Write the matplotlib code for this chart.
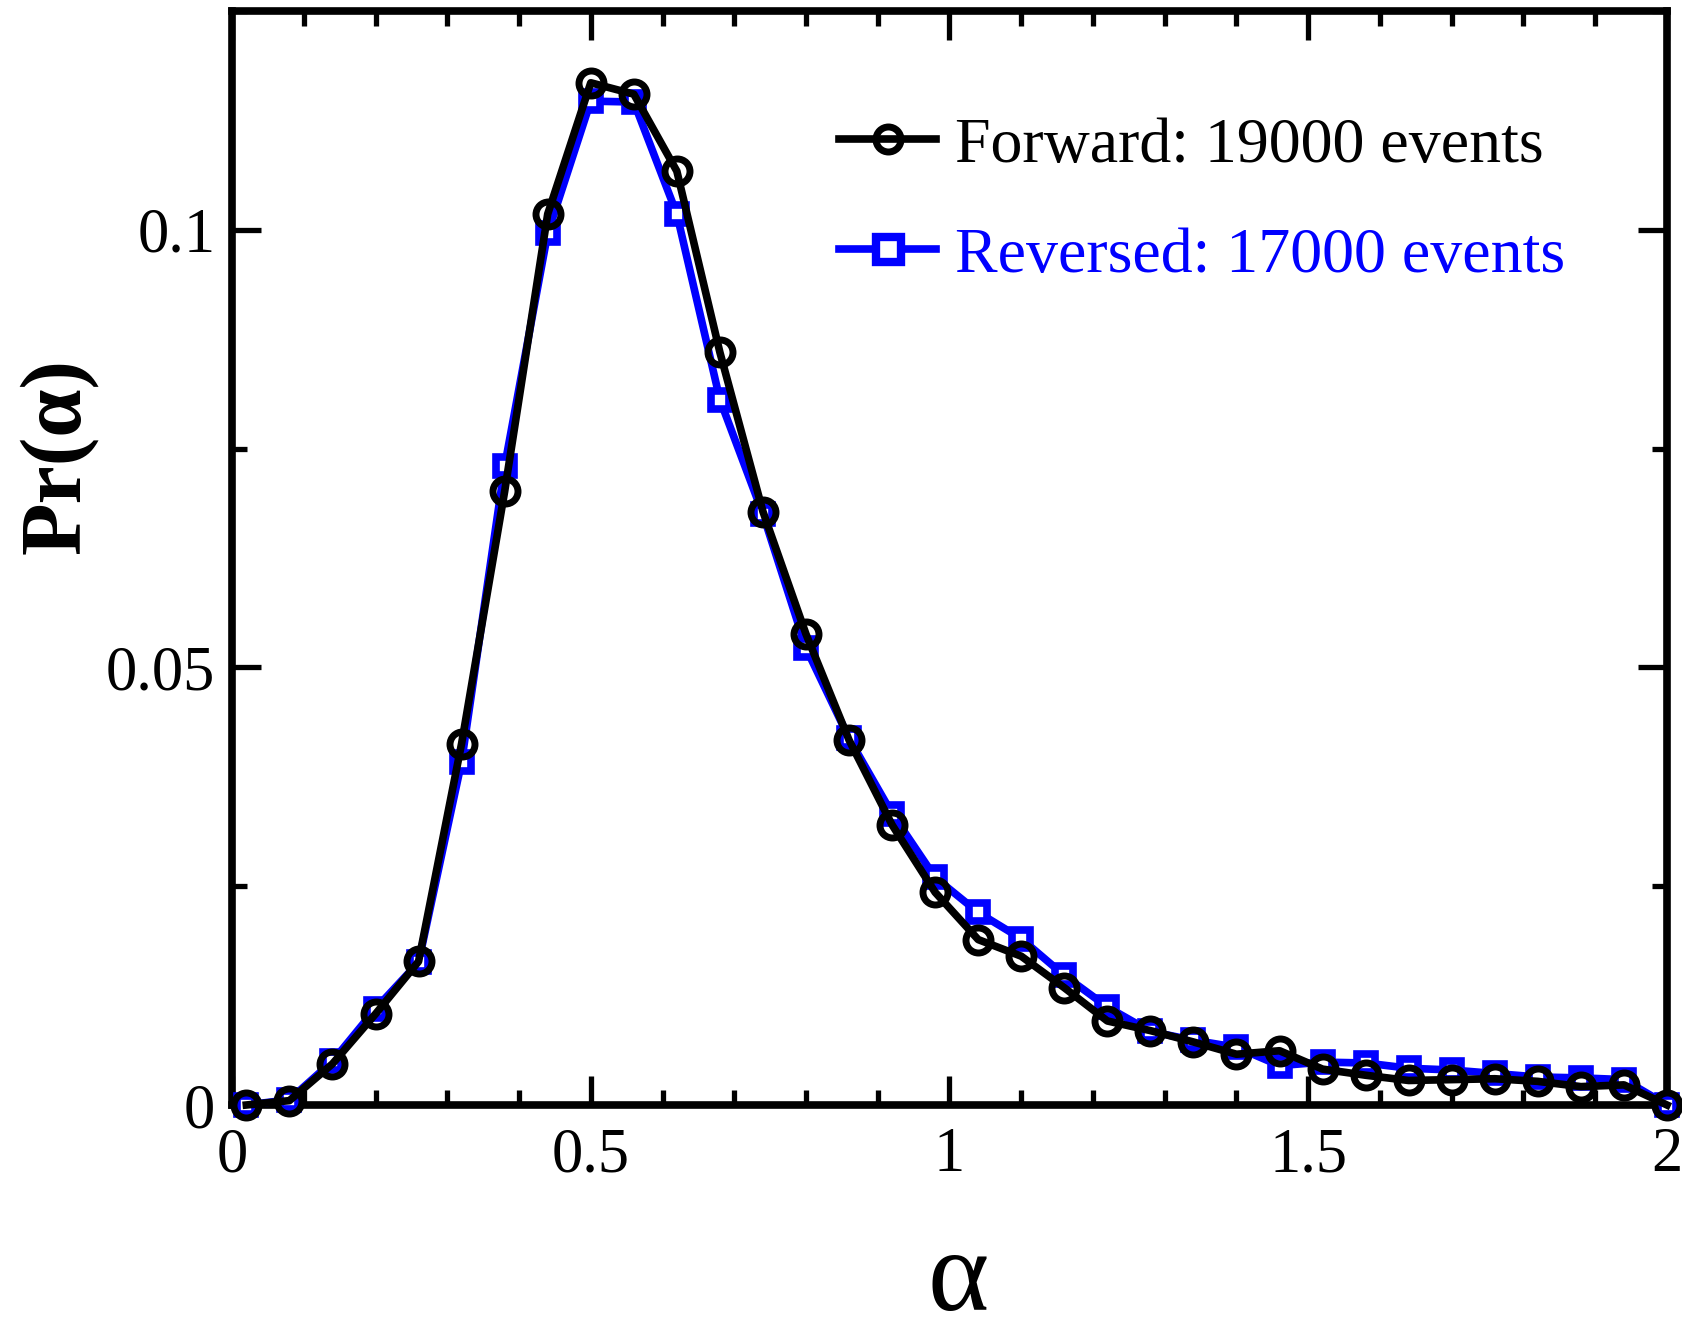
import matplotlib
matplotlib.use("Agg")
import matplotlib.pyplot as plt
from matplotlib.ticker import MultipleLocator

# alpha bins (centres)
alpha = [0.02, 0.08, 0.14, 0.20, 0.26, 0.32, 0.38, 0.44, 0.50, 0.56,
         0.62, 0.68, 0.74, 0.80, 0.86, 0.92, 0.98, 1.04, 1.10, 1.16,
         1.22, 1.28, 1.34, 1.40, 1.46, 1.52, 1.58, 1.64, 1.70, 1.76,
         1.82, 1.88, 1.94, 2.00]

# forward events
pr_forward = [0.0000, 0.0005, 0.0047, 0.0104, 0.0164, 0.0413, 0.0701, 0.1018, 0.1168, 0.1155,
              0.1067, 0.0860, 0.0678, 0.0538, 0.0417, 0.0320, 0.0243, 0.0189, 0.0170, 0.0134,
              0.0096, 0.0085, 0.0072, 0.0058, 0.0062, 0.0041, 0.0034, 0.0028, 0.0029, 0.0030,
              0.0027, 0.0021, 0.0023, 0.0000]

# reversed events
pr_reversed = [0.0000, 0.0006, 0.0050, 0.0110, 0.0163, 0.0392, 0.0730, 0.0996, 0.1147, 0.1146,
               0.1018, 0.0806, 0.0675, 0.0522, 0.0419, 0.0333, 0.0260, 0.0220, 0.0190, 0.0148,
               0.0112, 0.0084, 0.0074, 0.0066, 0.0045, 0.0049, 0.0048, 0.0042, 0.0040, 0.0036,
               0.0032, 0.0031, 0.0029, 0.0000]

label_forward = "Forward: 19000 events"
label_reversed = "Reversed: 17000 events"

plt.rcParams['font.family'] = ['Liberation Serif', 'DejaVu Serif']

fig = plt.figure(figsize=(16.82, 13.18), dpi=100)
ax = fig.add_axes([232 / 1682, 1 - 1105 / 1318, (1667 - 232) / 1682, (1105 - 11) / 1318])

ax.plot(alpha, pr_reversed, color=(0, 0, 1), linewidth=5.5, marker='s', markersize=13,
        markeredgewidth=5.5, markerfacecolor='white', markeredgecolor=(0, 0, 1),
        label=label_reversed, clip_on=False, zorder=3)
ax.plot(alpha, pr_forward, color='black', linewidth=5.5, marker='o', markersize=18,
        markeredgewidth=5, markerfacecolor='none', markeredgecolor='black',
        label=label_forward, clip_on=False, zorder=4)

ax.set_xlim(0, 2)
ax.set_ylim(0, 0.125)

ax.xaxis.set_major_locator(MultipleLocator(0.5))
ax.xaxis.set_minor_locator(MultipleLocator(0.1))
ax.yaxis.set_major_locator(MultipleLocator(0.05))
ax.yaxis.set_minor_locator(MultipleLocator(0.025))
ax.xaxis.set_major_formatter(plt.FuncFormatter(lambda v, p: f"{v:g}"))
ax.yaxis.set_major_formatter(plt.FuncFormatter(lambda v, p: f"{v:g}"))

ax.tick_params(which='both', direction='in', top=True, right=True, width=3.8, labelsize=45)
ax.tick_params(which='major', length=21)
ax.tick_params(which='minor', length=11)
ax.tick_params(axis='x', which='major', pad=16)
ax.tick_params(axis='y', which='major', pad=12)
for s in ax.spines.values():
    s.set_linewidth(5.5)

# axis labels
fig.text(59 / 1682, 1 - 456 / 1318, "Pr(α)", rotation=90, fontsize=62,
         fontweight='bold', ha='center', va='center')
fig.text(958 / 1682, 1 - 1310 / 1318, "α", fontsize=84, ha='center', va='baseline')

handles, labels = ax.get_legend_handles_labels()
leg = ax.legend(handles[::-1], labels[::-1], loc='upper left',
                bbox_to_anchor=(839 / 1682, 1 - 117 / 1318), bbox_transform=fig.transFigure,
                frameon=False, fontsize=46, handlelength=1.52, handletextpad=0.3,
                labelspacing=0.8, borderpad=0, borderaxespad=0)
for txt, h in zip(leg.get_texts(), handles[::-1]):
    txt.set_color(h.get_color())
# legend square drawn a bit larger than in the plot
leg.legend_handles[1].set_markersize(18)
leg.legend_handles[1].set_markeredgewidth(6)

fig.savefig("out.png", dpi=100)
